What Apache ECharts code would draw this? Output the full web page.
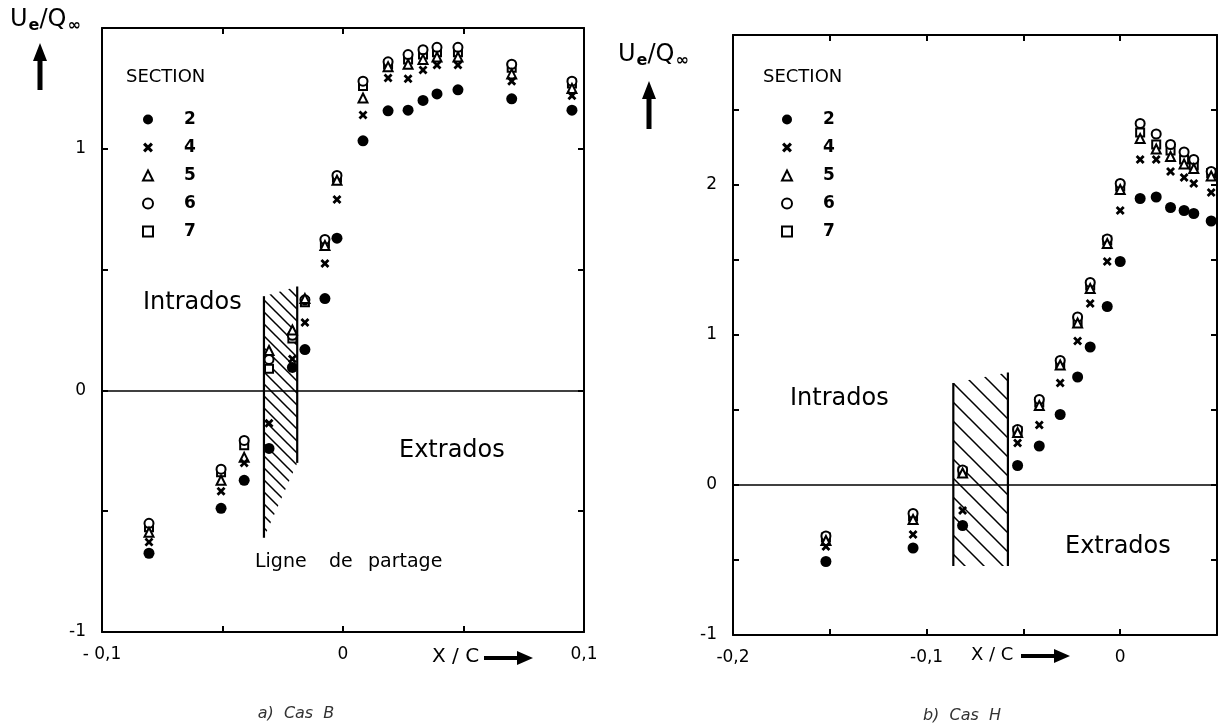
<!DOCTYPE html>
<html>
<head>
<meta charset="utf-8">
<title>Ue/Q∞ - Cas B / Cas H</title>
<script src="https://cdn.jsdelivr.net/npm/echarts@6/dist/echarts.min.js"></script>
<style>
html, body { margin: 0; padding: 0; background: #fff; }
#chart { width: 1220px; height: 724px; }
</style>
</head>
<body>
<div id="chart"></div>
<script>
// ---- a) Cas B ----
var casB_x  = [-0.0805, -0.0506, -0.041, -0.0307, -0.021, -0.0158, -0.0075, -0.0025, 0.0083, 0.0187, 0.027, 0.0332, 0.039, 0.0477, 0.070, 0.095];
var casB_s2 = [-0.674, -0.488, -0.372, -0.24, 0.095, 0.169, 0.38, 0.63, 1.033, 1.157, 1.16, 1.20, 1.227, 1.244, 1.207, 1.16];
var casB_s4 = [-0.628, -0.417, -0.30, -0.136, 0.13, 0.281, 0.525, 0.79, 1.14, 1.293, 1.29, 1.326, 1.347, 1.347, 1.28, 1.22];
var casB_s5 = [-0.587, -0.372, -0.277, 0.165, 0.25, 0.38, 0.60, 0.87, 1.21, 1.34, 1.35, 1.37, 1.38, 1.38, 1.31, 1.25];
var casB_s6 = [-0.55, -0.326, -0.207, 0.128, 0.228, 0.375, 0.625, 0.89, 1.28, 1.36, 1.39, 1.41, 1.42, 1.42, 1.35, 1.28];
var casB_s7 = [-0.566, -0.339, -0.227, 0.09, 0.215, 0.365, 0.61, 0.88, 1.26, 1.35, 1.37, 1.39, 1.40, 1.40, 1.335, 1.27];

// ---- b) Cas H ----
var casH_x  = [-0.152, -0.107, -0.0814, -0.053, -0.0418, -0.031, -0.022, -0.0155, -0.0067, 0.0, 0.0103, 0.0186, 0.026, 0.033, 0.038, 0.047];
var casH_s2 = [-0.51, -0.42, -0.27, 0.13, 0.26, 0.47, 0.72, 0.92, 1.19, 1.49, 1.91, 1.92, 1.85, 1.83, 1.81, 1.76];
var casH_s4 = [-0.41, -0.33, -0.17, 0.28, 0.40, 0.68, 0.96, 1.21, 1.49, 1.83, 2.17, 2.17, 2.09, 2.05, 2.01, 1.95];
var casH_s5 = [-0.37, -0.23, 0.08, 0.35, 0.53, 0.80, 1.08, 1.31, 1.61, 1.97, 2.31, 2.24, 2.19, 2.14, 2.11, 2.06];
var casH_s6 = [-0.34, -0.19, 0.10, 0.37, 0.57, 0.83, 1.12, 1.35, 1.64, 2.01, 2.41, 2.34, 2.27, 2.22, 2.17, 2.09];
var casH_s7 = [-0.35, -0.21, 0.09, 0.36, 0.55, 0.81, 1.09, 1.33, 1.63, 1.99, 2.35, 2.27, 2.23, 2.17, 2.13, 2.08];

var sections = ['2', '4', '5', '6', '7'];

// zone hachuree (ligne de partage): x gauche, x droite, haut g., haut d., bas g., bas d.
var hatchB = [-0.0328, -0.019, 0.39, 0.43, -0.61, -0.30];
var hatchH = [-0.0862, -0.058, 0.68, 0.75, -0.54, -0.54];

// graduations
var tickXB = [-0.1, 0, 0.1];
var tickXBText = ['- 0,1', '0', '0,1'];
var tickYB = [-1, 0, 1];
var tickYBText = ['-1', '0', '1'];
var tickXH = [-0.2, -0.1, 0];
var tickXHText = ['-0,2', '-0,1', '0'];
var tickYH = [-1, 0, 1, 2];
var tickYHText = ['-1', '0', '1', '2'];

var FONT = 'DejaVu Sans';
var chart = echarts.init(document.getElementById('chart'));

var crossPath = 'path://M0,2.2L2.2,0L5,2.8L7.8,0L10,2.2L7.2,5L10,7.8L7.8,10L5,7.2L2.2,10L0,7.8L2.8,5Z';
var openItem = { color: '#fff', borderColor: '#000', borderWidth: 2, opacity: 1 };
var markerStyle = {
    '2': { symbol: 'circle', size: 11, item: { color: '#000', opacity: 1 }, z: 6 },
    '4': { symbol: crossPath, size: 9, item: { color: '#000', opacity: 1 }, z: 5 },
    '5': { symbol: 'triangle', size: 9, item: openItem, z: 4 },
    '6': { symbol: 'circle', size: 9, item: openItem, z: 3 },
    '7': { symbol: 'rect', size: 8, item: openItem, z: 2 }
};

function tickFmt(values, texts) {
    return function (v) {
        for (var i = 0; i < values.length; i++) {
            if (Math.abs(v - values[i]) < 1e-9) return texts[i];
        }
        return '';
    };
}

function hatchPattern(step) {
    var c = document.createElement('canvas');
    c.width = step; c.height = step;
    var ctx = c.getContext('2d');
    ctx.strokeStyle = '#000';
    ctx.lineWidth = 1.5;
    ctx.beginPath();
    ctx.moveTo(-1, -1); ctx.lineTo(step + 1, step + 1);
    ctx.moveTo(-2, step - 2); ctx.lineTo(2, step + 2);
    ctx.moveTo(step - 2, -2); ctx.lineTo(step + 2, 2);
    ctx.stroke();
    return c;
}

function hatchRender(pattern) {
    return function (params, api) {
        var x0 = api.value(0), x1 = api.value(1);
        var tl = api.coord([x0, api.value(2)]);
        var tr = api.coord([x1, api.value(3)]);
        var bl = api.coord([x0, api.value(4)]);
        var br = api.coord([x1, api.value(5)]);
        return {
            type: 'group',
            children: [
                { type: 'polygon', shape: { points: [tl, tr, br, bl] }, style: { fill: { image: pattern, repeat: 'repeat' }, stroke: null } },
                { type: 'line', shape: { x1: tl[0], y1: tl[1], x2: bl[0], y2: bl[1] }, style: { stroke: '#000', lineWidth: 2.2 } },
                { type: 'line', shape: { x1: tr[0], y1: tr[1], x2: br[0], y2: br[1] }, style: { stroke: '#000', lineWidth: 2.2 } }
            ]
        };
    };
}

function sectionSeries(name, xs, ys, xi, yi) {
    var st = markerStyle[name];
    var s = {
        name: name,
        type: 'scatter',
        xAxisIndex: xi,
        yAxisIndex: yi,
        symbol: st.symbol,
        symbolSize: st.size,
        itemStyle: st.item,
        z: st.z,
        data: xs.map(function (x, i) { return [x, ys[i]]; })
    };
    if (name === '2') {
        s.markLine = {
            silent: true, symbol: 'none', label: { show: false },
            lineStyle: { color: '#000', width: 1.5, type: 'solid', opacity: 1 },
            data: [{ yAxis: 0 }]
        };
    }
    return s;
}

function xAxisOf(grid, min, max, pos, ticks, texts) {
    return {
        gridIndex: grid, type: 'value', min: min, max: max, interval: 0.05, position: pos,
        axisLine: { onZero: false, lineStyle: { color: '#000', width: 2 } },
        axisTick: { inside: true, length: 6, lineStyle: { color: '#000', width: 2 } },
        splitLine: { show: false },
        axisLabel: {
            show: !!ticks, showMinLabel: true, showMaxLabel: true, margin: 14,
            color: '#000', fontSize: 17, fontFamily: FONT,
            formatter: ticks ? tickFmt(ticks, texts) : null
        }
    };
}

function yAxisOf(grid, min, max, interval, pos, ticks, texts) {
    return {
        gridIndex: grid, type: 'value', min: min, max: max, interval: interval, position: pos,
        axisLine: { onZero: false, lineStyle: { color: '#000', width: 2 } },
        axisTick: { inside: true, length: 6, lineStyle: { color: '#000', width: 2 } },
        splitLine: { show: false },
        axisLabel: {
            show: !!ticks, showMinLabel: true, showMaxLabel: true, margin: 16,
            color: '#000', fontSize: 17, fontFamily: FONT,
            formatter: ticks ? tickFmt(ticks, texts) : null
        }
    };
}

var series = [];
var casB_y = [casB_s2, casB_s4, casB_s5, casB_s6, casB_s7];
var casH_y = [casH_s2, casH_s4, casH_s5, casH_s6, casH_s7];
series.push({ type: 'custom', xAxisIndex: 0, yAxisIndex: 0, z: 1, silent: true, renderItem: hatchRender(hatchPattern(12)), data: [hatchB] });
series.push({ type: 'custom', xAxisIndex: 2, yAxisIndex: 2, z: 1, silent: true, renderItem: hatchRender(hatchPattern(19)), data: [hatchH] });
sections.forEach(function (name, k) {
    series.push(sectionSeries(name, casB_x, casB_y[k], 0, 0));
    series.push(sectionSeries(name, casH_x, casH_y[k], 2, 2));
});

function legendAt(left) {
    return {
        orient: 'vertical', left: left, top: 106, data: sections, selectedMode: false,
        itemWidth: 10, itemHeight: 10, itemGap: 11,
        textStyle: { fontSize: 17, fontWeight: 'bold', color: '#000', fontFamily: FONT, lineHeight: 16, padding: [0, 0, 0, 26] }
    };
}

function txt(x, y, text, size, extra) {
    var st = { text: text, fontSize: size, fontFamily: FONT, fill: '#000', textAlign: 'left', align: 'left', textVerticalAlign: 'middle', verticalAlign: 'middle' };
    for (var k in extra) st[k] = extra[k];
    return { type: 'text', x: x, y: y, style: st, z: 10 };
}

function axisName(x, y) {
    return {
        type: 'text', x: x, y: y, z: 10,
        style: {
            text: '{u|U}{s|e}{u|/Q}{s|∞}',
            verticalAlign: 'top', textVerticalAlign: 'top',
            rich: {
                u: { fontSize: 24, fontFamily: FONT, fill: '#000', lineHeight: 26, verticalAlign: 'top' },
                s: { fontSize: 16, fontFamily: FONT, fontWeight: 'bold', fill: '#000', lineHeight: 16, padding: [15, 0, 0, 1], verticalAlign: 'bottom' }
            }
        }
    };
}

function arrow(points) {
    return { type: 'polygon', shape: { points: points }, style: { fill: '#000' }, z: 10 };
}

var graphics = [
    // a) Cas B
    txt(126, 77, 'SECTION', 18),
    txt(143, 303, 'Intrados', 24),
    txt(399, 451, 'Extrados', 24),
    txt(255, 562, 'Ligne', 19),
    txt(329, 562, 'de', 19),
    txt(368, 562, 'partage', 19),
    axisName(10, 8),
    arrow([[37.5, 90], [37.5, 61], [33, 61], [40, 43], [47, 61], [42.5, 61], [42.5, 90]]),
    txt(432, 657, 'X / C', 20),
    arrow([[484, 656], [517, 656], [517, 651], [533, 658], [517, 665], [517, 660], [484, 660]]),
    txt(296, 714, 'a)  Cas  B', 16, { fontStyle: 'italic', fill: '#333', textAlign: 'center', align: 'center' }),
    // b) Cas H
    txt(763, 77, 'SECTION', 18),
    txt(790, 399, 'Intrados', 24),
    txt(1065, 547, 'Extrados', 24),
    axisName(618, 43),
    arrow([[646.5, 129], [646.5, 99], [642, 99], [649, 81], [656, 99], [651.5, 99], [651.5, 129]]),
    txt(971, 655, 'X / C', 18),
    arrow([[1021, 654], [1054, 654], [1054, 649], [1070, 656], [1054, 663], [1054, 658], [1021, 658]]),
    txt(962, 716, 'b)  Cas  H', 16, { fontStyle: 'italic', fill: '#333', textAlign: 'center', align: 'center' })
];

var option = {
    animation: false,
    backgroundColor: '#fff',
    textStyle: { fontFamily: FONT },
    grid: [
        { left: 102, top: 28, width: 482, height: 604 },
        { left: 733, top: 35, width: 485, height: 600 }
    ],
    xAxis: [
        xAxisOf(0, -0.1, 0.1, 'bottom', tickXB, tickXBText),
        xAxisOf(0, -0.1, 0.1, 'top'),
        xAxisOf(1, -0.2, 0.05, 'bottom', tickXH, tickXHText),
        xAxisOf(1, -0.2, 0.05, 'top')
    ],
    yAxis: [
        yAxisOf(0, -1, 1.5, 0.5, 'left', tickYB, tickYBText),
        yAxisOf(0, -1, 1.5, 0.5, 'right'),
        yAxisOf(1, -1, 3, 0.5, 'left', tickYH, tickYHText),
        yAxisOf(1, -1, 3, 0.5, 'right')
    ],
    legend: [legendAt(137), legendAt(776)],
    graphic: graphics,
    series: series
};
chart.setOption(option);
</script>
</body>
</html>
